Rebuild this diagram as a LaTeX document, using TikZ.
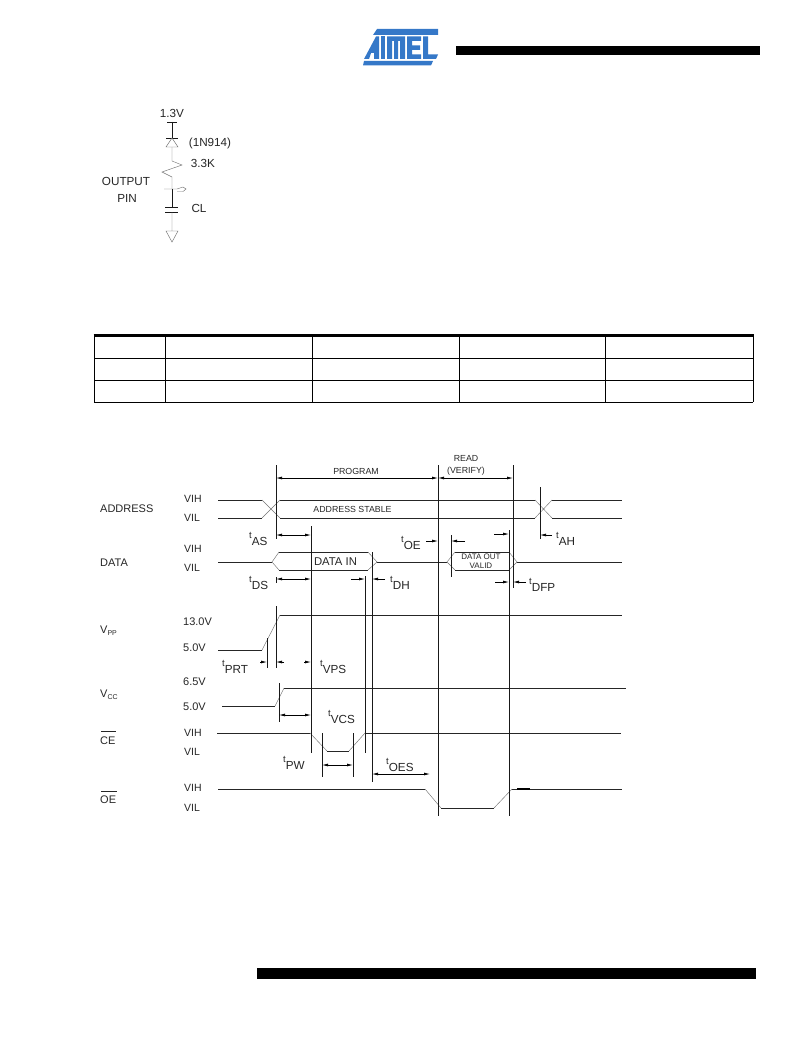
\documentclass[tikz,border=0pt]{standalone}
\usepackage{fontspec}
\setmainfont{Liberation Sans}
\usetikzlibrary{arrows.meta}
\tikzset{
  wave/.style={line width=0.9pt, black!85},
  edgeline/.style={line width=0.45pt, black!55},
  marker/.style={line width=0.9pt, black!90},
  span/.style={line width=0.75pt, {Latex[length=6pt,width=3pt]}-{Latex[length=6pt,width=3pt]}},
  tip/.style={line width=0.75pt, -{Latex[length=6pt,width=3pt]}},
  lbl/.style={font=\fontsize{10.5}{12}\selectfont, text=black!85, inner sep=0pt},
  volt/.style={font=\fontsize{11}{13}\selectfont, text=black!85, inner sep=0pt},
  cirlbl/.style={font=\fontsize{11.7}{13}\selectfont, text=black!85, inner sep=0pt},
  siglbl/.style={font=\fontsize{11}{13}\selectfont, text=black!85, inner sep=0pt},
  tmg/.style={font=\fontsize{11.7}{14}\selectfont, text=black!85, inner sep=0pt},
  small/.style={font=\fontsize{8.8}{10}\selectfont, text=black!85, inner sep=0pt, align=center}
}
\definecolor{atmelblue}{RGB}{53,120,200}
\newcommand{\tm}[1]{\raisebox{0.75ex}{\fontsize{9.5}{10}\selectfont t}\raisebox{-0.35ex}{#1}}
\begin{document}
\begin{tikzpicture}[x=1pt,y=-1pt]
  \useasboundingbox (0,0) rectangle (802,1038);

  % header and footer bars
  \fill [black] (456,46) rectangle (760,55);
  \fill [black] (257,968) rectangle (756,979);

  % logo
  \fill [atmelblue] (377,29) -- (438,29) -- (438,35) -- (373,35) -- cycle;
  \fill [atmelblue] (364,61) -- (433,61) -- (431,65.5) -- (363,65.5) -- cycle;
  \fill [atmelblue] (376,36.5) -- (379,36.5) -- (379,59) -- (374,59) -- (374,53) -- (371,53) -- (369,59) -- (364,59) -- cycle;
  \fill [atmelblue] (380.5,36.5) -- (385,36.5) -- (385,59) -- (380.5,59) -- cycle;
  \fill [atmelblue] (387,36.5) -- (405,36.5) -- (405,59) -- (400,59) -- (400,41) -- (398,41) -- (398,59) -- (394,59) -- (394,41) -- (392,41) -- (392,59) -- (387,59) -- cycle;
  \fill [atmelblue] (407,36.5) -- (421,36.5) -- (421,41) -- (412,41) -- (412,45.5) -- (420,45.5) -- (420,50) -- (412,50) -- (412,54.5) -- (421,54.5) -- (421,59) -- (407,59) -- cycle;
  \fill [atmelblue] (423,36.5) -- (428,36.5) -- (428,54.5) -- (438,54.5) -- (436,59) -- (423,59) -- cycle;

  % test circuit
  \node [cirlbl] (vtest) at (172,113) {1.3V};
  \node [cirlbl] (diode) at (210,143) {(1N914)};
  \node [cirlbl] (rload) at (203,163) {3.3K};
  \node [cirlbl] (outa) at (126,181) {OUTPUT};
  \node [cirlbl] (outb) at (127,198) {PIN};
  \node [cirlbl] (cload) at (199,208) {CL};
  \draw [marker] (167,122) -- (177,122) (172,122) -- (172,138) (166,138) -- (178,138);
  \draw [edgeline] (172,138) -- (166,147) -- (178,147) -- cycle;
  \draw [edgeline] (172,147) -- (172,161) -- (182,165) -- (162,172) -- (172,177) -- (172,189);
  \draw [edgeline] (164,189) -- (177,189) -- (183,187) -- (186,189) -- (183,191.5) -- (177,191.5);
  \draw [marker] (172,189) -- (172,207) (165,207) -- (178,207) (165,212) -- (178,212);
  \draw [edgeline] (172,212) -- (172,231) (166,231) -- (178,231) -- (172,242) -- cycle;

  % table
  \draw [line width=3pt, black] (93.5,335.5) -- (753.5,335.5);
  \draw [line width=0.8pt, black] (94,358) -- (753,358) (94,380) -- (753,380) (94,402) -- (753,402);
  \foreach \xc in {94,165,312,459,605,753}
    \draw [line width=0.8pt, black] (\xc,335) -- (\xc,402);

  % signal names
  \node [siglbl, anchor=west] (address) at (100,509) {ADDRESS};
  \node [siglbl, anchor=west] (data) at (100,563) {DATA};
  \node [siglbl, anchor=west] (vpp) at (100,631) {V\raisebox{-0.4ex}{\fontsize{7}{8}\selectfont PP}};
  \node [siglbl, anchor=west] (vcc) at (100,695) {V\raisebox{-0.4ex}{\fontsize{7}{8}\selectfont CC}};
  \node [siglbl, anchor=west] (ce) at (100,741) {CE};
  \node [siglbl, anchor=west] (oe) at (100,800) {OE};
  \draw [line width=0.6pt, black!85] (101,731.5) -- (116,731.5) (101,791) -- (117,791);

  % levels
  \foreach \ya/\yb in {499/518,549/568,733/752,788/808} {
    \node [lbl, anchor=west] at (184,\ya) {VIH};
    \node [lbl, anchor=west] at (184,\yb) {VIL};
  }
  \node [volt, anchor=west] (vpphi) at (183,622) {13.0V};
  \node [volt, anchor=west] (vpplo) at (183,648) {5.0V};
  \node [volt, anchor=west] (vcchi) at (183,682) {6.5V};
  \node [volt, anchor=west] (vcclo) at (183,707) {5.0V};

  % waveforms
  \draw [wave] (218,500) -- (262,500) (280,500) -- (535,500) (552,500) -- (622,500);
  \draw [wave] (218,518) -- (262,518) (280,518) -- (535,518) (552,518) -- (622,518);
  \draw [edgeline] (262,500) -- (280,518) (262,518) -- (280,500) (535,500) -- (552,518) (535,518) -- (552,500);
  \draw [wave] (218,562) -- (272,562) (377,562) -- (447,562) (517,562) -- (622,562);
  \draw [wave] (279,552) -- (368,552) (279,570) -- (368,570) (455,552) -- (509,552) (455,570) -- (509,570);
  \draw [edgeline] (279,552) -- (272,562) -- (279,570) (368,552) -- (377,562) -- (368,570)
    (455,552) -- (447,562) -- (455,570) (509,552) -- (517,562) -- (509,570);
  \draw [wave] (218,650) -- (262,650) (280,615) -- (622,615);
  \draw [edgeline] (262,650) -- (280,615);
  \draw [wave] (222,706) -- (275,706) (284,688) -- (626,688);
  \draw [edgeline] (275,706) -- (284,688);
  \draw [wave] (217,733) -- (310,733) (327,751) -- (349,751) (365,733) -- (621,733);
  \draw [edgeline] (310,733) -- (327,751) (349,751) -- (365,733);
  \draw [wave] (218,789) -- (425,789) (441,808) -- (494,808) (512,789) -- (622,789);
  \draw [edgeline] (425,789) -- (441,808) (494,808) -- (512,789);
  \draw [line width=1.3pt, black] (517,789) -- (530,789);

  % markers
  \draw [marker] (276,465) -- (276,539) (276,577) -- (276,583) (276,606) -- (276,668);
  \draw [marker] (267,638) -- (267,668);
  \draw [marker] (279,683) -- (279,722);
  \draw [marker] (311,526) -- (311,753);
  \draw [marker] (322,733) -- (322,777) (353,733) -- (353,777);
  \draw [marker] (365,576) -- (365,753);
  \draw [marker] (372,552) -- (372,782);
  \draw [marker] (438,465) -- (438,816);
  \draw [marker] (451,535) -- (451,577);
  \draw [marker] (509,530) -- (509,816);
  \draw [marker] (513,465) -- (513,588);
  \draw [marker] (540,487) -- (540,539);

  % timing arrows
  \draw [span] (276,478) -- (438,478);
  \draw [span] (438,478) -- (513,478);
  \draw [span] (276,535) -- (311,535);
  \draw [span] (276,579) -- (311,579);
  \draw [tip] (351,579) -- (365,579);
  \draw [tip] (385,579) -- (372,579);
  \draw [tip] (426,541) -- (438,541);
  \draw [tip] (465,541) -- (451,541);
  \draw [tip] (494,534) -- (509,534);
  \draw [tip] (495,582) -- (509,582);
  \draw [tip] (526,582) -- (513,582);
  \draw [tip] (552,535) -- (540,535);
  \draw [tip] (260,662) -- (267,662);
  \draw [tip] (284,662) -- (276,662);
  \draw [tip] (304,662) -- (311,662);
  \draw [span] (279,715) -- (311,715);
  \draw [span] (322,765) -- (353,765);
  \draw [span] (372,774) -- (430,774);

  % timing labels
  \node [tmg, anchor=west] (tas) at (249,539) {\tm{AS}};
  \node [tmg, anchor=west] (tds) at (249,583) {\tm{DS}};
  \node [tmg, anchor=west] (tdh) at (390,583) {\tm{DH}};
  \node [tmg, anchor=west] (toe) at (401,543) {\tm{OE}};
  \node [tmg, anchor=west] (tah) at (556,539) {\tm{AH}};
  \node [tmg, anchor=west] (tdfp) at (529,585) {\tm{DFP}};
  \node [tmg, anchor=west] (tprt) at (222,667) {\tm{PRT}};
  \node [tmg, anchor=west] (tvps) at (320,667) {\tm{VPS}};
  \node [tmg, anchor=west] (tvcs) at (328,717) {\tm{VCS}};
  \node [tmg, anchor=west] (tpw) at (283,763) {\tm{PW}};
  \node [tmg, anchor=west] (toes) at (386,765) {\tm{OES}};

  % text in the waveforms
  \node [small] (program) at (356,471) {PROGRAM};
  \node [small] (read) at (466,458) {READ};
  \node [small] (verify) at (466,471) {(VERIFY)};
  \node [small] (stable) at (352.5,509) {ADDRESS STABLE};
  \node [cirlbl, font=\fontsize{11.3}{13}\selectfont] (datain) at (335.5,562) {DATA IN};
  \node [small, font=\fontsize{8}{9.5}\selectfont] (outvalid) at (481,557) {DATA OUT};
  \node [small, font=\fontsize{8}{9.5}\selectfont] (valid) at (481,566) {VALID};
\end{tikzpicture}
\end{document}
